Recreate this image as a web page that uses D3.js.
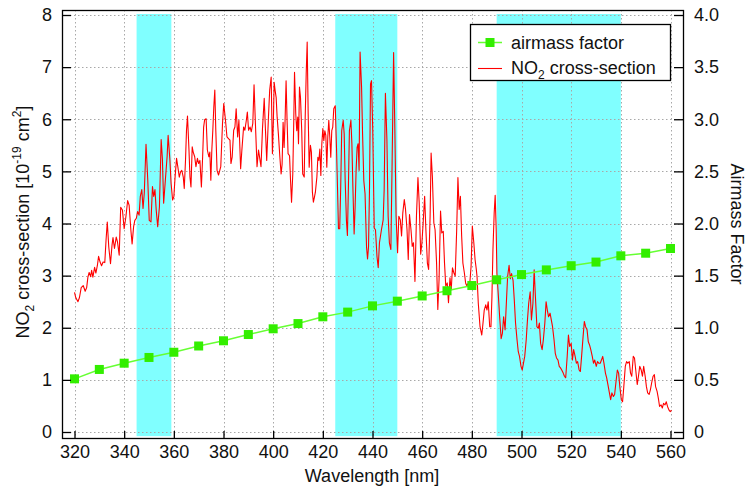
<!DOCTYPE html>
<html>
<head>
<meta charset="utf-8">
<script src="https://cdn.jsdelivr.net/npm/d3@7"></script>
<style>
  html, body { margin: 0; padding: 0; background: #fff; }
  svg { display: block; font-family: "Liberation Sans", Arial, Helvetica, sans-serif; }
</style>
</head>
<body>
<svg id="chart" width="748" height="488"></svg>
<script>
// ---------------- data ----------------
const xTicks = [320, 340, 360, 380, 400, 420, 440, 460, 480, 500, 520, 540, 560];
const leftTicks = [0, 1, 2, 3, 4, 5, 6, 7, 8];
const rightTicks = [0, 0.5, 1.0, 1.5, 2.0, 2.5, 3.0, 3.5, 4.0];
const rightTickLabels = ["0", "0.5", "1.0", "1.5", "2.0", "2.5", "3.0", "3.5", "4.0"];

// shaded windows [start, end] in nm
const bandStart = [345, 425, 490];
const bandEnd = [359, 450, 540];

// airmass factor (right axis)
const amfWl = [320, 330, 340, 350, 360, 370, 380, 390, 400, 410, 420, 430, 440, 450, 460, 470, 480, 490, 500, 510, 520, 530, 540, 550, 560];
const amfVal = [0.51, 0.60, 0.66, 0.715, 0.765, 0.825, 0.875, 0.935, 0.99, 1.04, 1.105, 1.15, 1.21, 1.255, 1.305, 1.355, 1.405, 1.46, 1.51, 1.555, 1.595, 1.63, 1.69, 1.715, 1.76];

// NO2 cross-section (left axis, 1e-19 cm^2)
const no2Wl = [
320,320.5,321.4,322,322.7,323.5,324.3,324.9,325.4,325.9,326.5,326.9,327.4,328.1,328.6,329.2,329.7,330.3,330.9,331.5,332.2,332.7,333.2,333.8,334.5,335.1,335.5,336.1,336.8,337.3,338,338.6,339.3,340,340.7,341.4,342,342.7,343.2,343.8,344.3,344.9,345.4,346,346.5,347.1,347.6,348.1,348.8,349.5,350.1,350.8,351.4,351.9,352.4,352.9,353.5,354.2,354.9,355.4,355.9,356.6,357.3,357.7,358.4,358.9,359.5,360,
360.5,361.1,361.6,362.2,362.7,363.2,363.8,364.2,364.7,365.1,365.5,366.1,366.5,366.9,367.4,367.8,368.4,368.9,369.5,370,370.5,371.1,371.6,372,372.4,373,373.5,374.1,374.5,374.9,375.3,375.7,376.1,376.5,376.9,377.4,378,378.5,378.9,
379.6,380.1,380.8,381.4,382,382.6,383,383.5,384.1,384.6,385.1,385.7,386.2,386.9,387.4,388.1,388.6,389.2,389.6,390.1,390.7,391.2,391.8,392.3,392.8,393.5,394.1,394.6,395.1,395.7,396.4,396.9,397.4,398.1,398.6,399.2,399.7,
400.1,400.4,400.8,401.2,401.6,402.1,402.7,403.2,403.6,404,404.4,404.8,405.2,405.6,406,406.6,407,407.4,407.9,408.3,408.6,409.1,409.5,409.9,410.2,410.6,411,411.5,411.9,412.5,412.9,413.3,413.7,414.1,414.5,415,415.4,415.8,416.2,416.6,417,417.6,418,418.4,418.8,419.2,419.6,420,420.4,420.8,421.2,421.6,422,422.4,422.8,423.2,423.6,424,424.4,425,425.5,425.9,426.3,426.8,427.2,427.6,428.2,428.6,429,429.5,429.9,430.3,430.7,431.3,431.7,432.1,432.6,433,433.4,433.8,434.2,434.6,435,435.6,436,436.5,437,437.6,438,438.4,438.8,439.2,439.6,440.1,
440.7,441.2,441.8,442.3,442.8,443.6,444.3,444.7,445.2,445.8,446.3,446.8,447.4,447.9,448.5,449,449.5,450.1,450.6,451.2,451.7,452.2,452.8,453.3,453.9,454.4,454.9,455.5,456,456.5,457.1,457.7,458.3,458.8,459.4,459.9,460.4,461,461.5,462.1,462.6,463.2,463.6,464.1,464.7,465.2,465.8,466.3,466.8,467.4,467.9,468.5,469,469.5,470.1,470.6,471.2,471.7,472.2,472.8,473.3,473.9,474.4,474.9,475.4,475.9,476.4,477,477.5,478,478.6,479.1,479.7,480.2,480.8,481.3,481.8,
482.1,482.6,483.3,484,484.5,485,485.6,486.1,486.6,487.2,487.7,488.1,488.5,489,489.4,489.8,490.1,490.7,491.2,491.8,492.3,492.8,493.4,493.9,494.4,495,495.5,496,496.6,497.1,497.6,498.2,498.7,499.2,499.8,500.3,500.8,501.3,501.9,502.4,502.9,503.5,504,504.6,505.1,505.6,506.2,506.7,507.2,507.7,508.3,508.8,509.4,509.9,510.4,510.9,511.5,512,512.5,513.1,513.6,514.1,514.7,515.2,515.7,516.2,516.8,517.3,517.8,518.4,518.9,519.4,520,520.5,521,521.6,522.1,522.6,523.2,523.7,524.2,524.8,525.3,525.8,526.4,526.9,527.4,527.9,528.5,529,529.5,530.1,530.6,531.1,531.7,532.2,532.7,533.2,533.8,534.3,534.8,535.4,535.9,536.4,537,537.5,538,538.6,539.1,539.6,540.2,540.7,541.2,541.8,542.3,542.8,543.4,543.9,544.4,545,545.5,546,546.6,547.1,547.6,548.2,548.7,549.2,549.8,550.3,550.8,551.4,551.9,552.4,553,553.5,554,554.6,555.1,555.6,556.2,556.7,557.2,557.8,558.3,558.8,559.4,559.9,560.4
];
const no2Val = [
2.68,2.58,2.50,2.58,2.77,2.81,2.70,2.77,2.97,3.06,2.98,3.10,2.97,3.16,3.05,3.19,3.37,3.26,3.19,3.26,3.25,3.68,4.03,3.55,3.23,3.58,3.73,3.52,3.74,3.65,3.39,4.31,4.26,3.90,4.13,4.44,4.35,3.87,3.61,3.94,4.06,4.10,4.23,4.16,4.52,4.65,4.29,4.58,5.52,4.84,4.06,4.03,4.71,4.52,4.65,4.26,3.94,4.32,5.61,5.23,4.39,4.84,5.29,5.69,5.23,4.77,4.45,4.51,
4.89,5.25,5.09,4.89,4.99,5.02,4.89,4.67,5.21,5.79,6.06,5.41,4.89,4.70,5.47,5.37,5.28,5.09,5.25,5.15,5.21,4.70,5.28,5.85,5.99,6.01,5.41,5.28,5.37,4.83,5.41,5.79,6.24,6.56,5.79,5.02,4.93,5.02,5.09,
5.92,6.30,5.98,5.66,5.63,5.60,5.15,5.28,5.79,5.85,6.20,5.66,5.98,5.05,5.41,5.85,5.79,5.98,6.14,5.79,5.85,5.76,5.92,6.66,5.98,5.09,5.41,5.25,5.09,5.82,6.40,5.79,5.21,6.04,6.56,6.81,5.34,
6.00,6.71,6.55,6.42,6.04,5.72,5.27,4.95,5.14,5.94,5.46,5.98,6.74,5.98,5.34,5.30,4.82,4.41,4.95,5.98,6.90,6.10,5.78,6.04,5.53,6.62,6.42,5.78,4.95,4.89,6.04,6.87,7.48,6.10,5.08,5.50,5.37,4.60,4.41,4.50,4.60,4.89,5.27,5.21,5.43,4.92,5.53,5.82,5.59,5.78,5.69,5.08,5.66,5.98,5.66,5.27,5.78,5.85,6.20,6.26,5.46,4.70,3.90,3.90,4.70,5.78,5.98,5.72,4.82,4.06,3.77,4.70,5.78,5.98,5.53,4.70,3.80,4.31,5.02,5.46,5.53,5.02,7.29,6.62,5.72,4.82,4.57,3.55,3.32,3.55,4.70,6.68,6.74,5.80,
3.91,3.88,3.37,3.15,3.63,3.88,4.07,4.65,6.50,5.61,4.14,3.63,3.50,5.17,7.28,5.80,4.14,3.44,4.14,4.07,3.76,4.20,4.46,4.27,3.88,3.31,4.17,3.88,3.56,3.63,2.89,4.14,4.88,4.40,3.41,3.63,4.01,4.52,3.88,3.24,3.12,4.14,5.35,4.91,4.01,3.88,3.24,2.35,2.92,4.24,3.82,3.85,3.24,2.80,2.86,2.48,2.96,2.73,3.15,3.05,2.99,3.88,4.88,4.27,4.52,3.76,3.24,3.05,2.86,2.80,2.86,2.80,3.18,3.95,3.63,3.31,3.12,
2.98,2.47,2.02,1.86,2.09,2.34,2.44,2.34,2.50,2.02,2.02,2.60,3.49,4.20,4.54,3.90,3.04,2.60,2.21,1.79,1.89,2.21,1.96,2.47,2.98,3.20,2.94,3.04,2.91,2.53,2.09,1.77,1.54,1.45,1.26,1.19,1.32,1.45,1.77,2.15,2.47,2.69,2.15,2.47,3.11,2.60,2.02,1.99,2.09,1.70,1.58,1.77,2.09,2.50,2.34,2.21,2.28,2.15,2.02,1.77,1.51,1.42,1.38,1.26,1.23,1.19,1.13,1.07,1.04,1.45,1.86,1.64,1.70,1.38,1.58,1.45,1.32,1.35,1.19,1.16,1.45,1.83,2.12,2.02,1.96,1.73,1.67,1.58,1.45,1.32,1.38,1.26,1.35,1.32,1.32,1.38,1.45,1.32,1.13,1.04,0.91,0.75,0.62,0.75,0.68,0.72,0.94,1.19,1.13,0.87,0.62,0.58,0.87,1.26,1.35,1.32,1.35,1.13,1.07,1.45,1.42,1.19,0.91,1.07,1.26,1.19,1.07,1.26,1.07,0.87,0.75,0.72,0.81,0.94,1.07,1.10,0.87,0.78,0.65,0.49,0.52,0.46,0.55,0.52,0.58,0.49,0.42,0.39,0.42
];

// ---------------- layout ----------------
const svg = d3.select("#chart");
const frame = { left: 62, right: 683, top: 10, bottom: 438 };

const x = d3.scaleLinear().domain([320, 560]).range([74.5, 670.5]);
const yL = d3.scaleLinear().domain([0, 8]).range([432, 15]);
const yR = d3.scaleLinear().domain([0, 4]).range([432, 15]);

const FONT = 18;

// shaded bands
svg.append("g").selectAll("rect")
  .data(bandStart.map((s, i) => [s, bandEnd[i]]))
  .join("rect")
  .attr("x", d => x(d[0]))
  .attr("width", d => x(d[1]) - x(d[0]))
  .attr("y", yL(8.02))
  .attr("height", yL(-0.08) - yL(8.02))
  .attr("fill", "#80ffff");

// grid
const grid = svg.append("g").attr("stroke", "#a8a8a8").attr("stroke-width", 1).attr("stroke-dasharray", "1.5,2.5");
grid.selectAll("line.gx").data(xTicks).join("line").attr("class", "gx")
  .attr("x1", d => Math.round(x(d)) + 0.5).attr("x2", d => Math.round(x(d)) + 0.5)
  .attr("y1", frame.top).attr("y2", frame.bottom);
grid.selectAll("line.gy").data(leftTicks).join("line").attr("class", "gy")
  .attr("y1", d => Math.round(yL(d)) + 0.5).attr("y2", d => Math.round(yL(d)) + 0.5)
  .attr("x1", frame.left).attr("x2", frame.right);

// NO2 line
svg.append("path")
  .datum(no2Wl.map((w, i) => [w, no2Val[i]]))
  .attr("fill", "none")
  .attr("stroke", "#ff0000")
  .attr("stroke-width", 1.1)
  .attr("stroke-linejoin", "round")
  .attr("d", d3.line().x(d => x(d[0])).y(d => yL(d[1])));

// airmass line + markers
const amf = amfWl.map((w, i) => [w, amfVal[i]]);
svg.append("path")
  .datum(amf)
  .attr("fill", "none")
  .attr("stroke", "#66ff33")
  .attr("stroke-width", 1.5)
  .attr("d", d3.line().x(d => x(d[0])).y(d => yR(d[1])));
const MS = 9;
svg.append("g").selectAll("rect").data(amf).join("rect")
  .attr("x", d => x(d[0]) - MS / 2).attr("y", d => yR(d[1]) - MS / 2)
  .attr("width", MS).attr("height", MS)
  .attr("fill", "#33ee00");

// frame
svg.append("rect")
  .attr("x", frame.left + 0.5).attr("y", frame.top + 0.5)
  .attr("width", frame.right - frame.left).attr("height", frame.bottom - frame.top)
  .attr("fill", "none").attr("stroke", "#000").attr("stroke-width", 1.3);

// axes (ticks inward, labels outside)
const axisBottom = d3.axisBottom(x).tickValues(xTicks).tickSize(0).tickPadding(0).tickFormat(d3.format("d"));
const gB = svg.append("g").attr("transform", `translate(0,${frame.bottom})`).call(axisBottom);
gB.select(".domain").remove();
gB.selectAll(".tick text").attr("dy", null).attr("y", 20).attr("font-size", FONT).attr("font-family", "Liberation Sans, Arial, sans-serif").attr("fill", "#111");
gB.selectAll(".tick").append("line").attr("y1", 0).attr("y2", -7).attr("stroke", "#000").attr("stroke-width", 1.3);

const axisLeft = d3.axisLeft(yL).tickValues(leftTicks).tickSize(0).tickPadding(0).tickFormat(d3.format("d"));
const gL = svg.append("g").attr("transform", `translate(${frame.left},0)`).call(axisLeft);
gL.select(".domain").remove();
gL.selectAll(".tick text").attr("x", -10).attr("font-size", FONT).attr("font-family", "Liberation Sans, Arial, sans-serif").attr("fill", "#111");
gL.selectAll(".tick").append("line").attr("x1", 0).attr("x2", 9).attr("stroke", "#000").attr("stroke-width", 1.3);

const axisRight = d3.axisRight(yR).tickValues(rightTicks).tickSize(0).tickPadding(0).tickFormat((d, i) => rightTickLabels[i]);
const gR = svg.append("g").attr("transform", `translate(${frame.right + 1},0)`).call(axisRight);
gR.select(".domain").remove();
gR.selectAll(".tick text").attr("x", 10).attr("font-size", FONT).attr("font-family", "Liberation Sans, Arial, sans-serif").attr("fill", "#111");
gR.selectAll(".tick").append("line").attr("x1", 0).attr("x2", -10).attr("stroke", "#000").attr("stroke-width", 1.3);

// axis titles
svg.append("text")
  .attr("x", 372).attr("y", 482)
  .attr("text-anchor", "middle").attr("font-size", FONT).attr("fill", "#111")
  .text("Wavelength [nm]");

const tl = svg.append("text")
  .attr("transform", "translate(29,222) rotate(-90)")
  .attr("text-anchor", "middle").attr("font-size", FONT).attr("fill", "#111");
tl.append("tspan").text("NO");
tl.append("tspan").attr("font-size", 12).attr("dy", 5).text("2");
tl.append("tspan").attr("dy", -5).text(" cross-section [10");
tl.append("tspan").attr("font-size", 12).attr("dy", -8).text("-19");
tl.append("tspan").attr("dy", 8).text(" cm");
tl.append("tspan").attr("font-size", 12).attr("dy", -8).text("2");
tl.append("tspan").attr("dy", 8).text("]");

svg.append("text")
  .attr("transform", "translate(731,224) rotate(90)")
  .attr("text-anchor", "middle").attr("font-size", FONT).attr("fill", "#111")
  .text("Airmass Factor");

// legend
const lg = svg.append("g");
lg.append("rect").attr("x", 470.5).attr("y", 24.5).attr("width", 200).attr("height", 56)
  .attr("fill", "#fff").attr("stroke", "#000").attr("stroke-width", 1.3);
lg.append("line").attr("x1", 478).attr("x2", 502).attr("y1", 42.5).attr("y2", 42.5)
  .attr("stroke", "#66ff33").attr("stroke-width", 1.5);
lg.append("rect").attr("x", 490 - MS / 2).attr("y", 42.5 - MS / 2).attr("width", MS).attr("height", MS).attr("fill", "#33ee00");
lg.append("text").attr("x", 511).attr("y", 48.5).attr("font-size", FONT).attr("fill", "#111").text("airmass factor");
lg.append("line").attr("x1", 478).attr("x2", 502).attr("y1", 68.5).attr("y2", 68.5)
  .attr("stroke", "#ff0000").attr("stroke-width", 1.1);
const lt = lg.append("text").attr("x", 511).attr("y", 74).attr("font-size", FONT).attr("fill", "#111");
lt.append("tspan").text("NO");
lt.append("tspan").attr("font-size", 12).attr("dy", 5).text("2");
lt.append("tspan").attr("dy", -5).text(" cross-section");
</script>
</body>
</html>
